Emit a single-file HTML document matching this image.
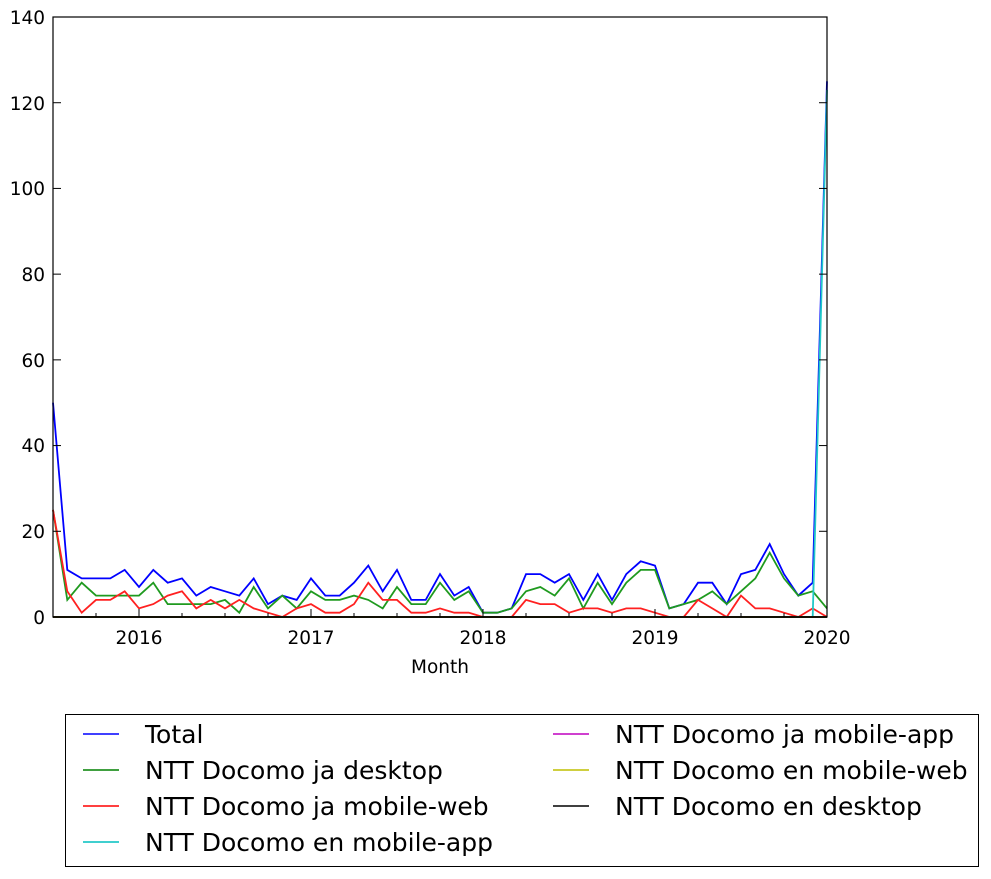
<!DOCTYPE html><html><head><meta charset="utf-8"><style>body{margin:0;background:#fff}svg{display:block;font-family:"DejaVu Sans","Liberation Sans",sans-serif}</style></head><body>
<svg width="991" height="879" xmlns="http://www.w3.org/2000/svg">
<g id="lines" fill="none" stroke-width="1.8"></g>
<rect x="53" y="17" width="774" height="600" fill="none" stroke="#000" stroke-width="1.2"/>
<g font-size="18.5" fill="#000" text-anchor="end">
<text x="45" y="624">0</text><text x="45" y="538">20</text><text x="45" y="452">40</text><text x="45" y="367">60</text><text x="45" y="281">80</text><text x="45" y="195">100</text><text x="45" y="110">120</text><text x="45" y="24">140</text>
</g>
<g font-size="18.5" text-anchor="middle">
<text x="139" y="644">2016</text><text x="311" y="644">2017</text><text x="483" y="644">2018</text><text x="655" y="644">2019</text><text x="827" y="644">2020</text>
<text x="440" y="673">Month</text>
</g>
<g id="ticks" stroke="#000" stroke-width="1"></g>
<rect x="65.5" y="714.5" width="913" height="152" fill="#fff" stroke="#000"/>
<g font-size="25">
<line x1="83" y1="734" x2="119" y2="734" stroke="#0000ff" stroke-width="1.5"/><text x="145" y="743">Total</text>
<line x1="83" y1="770" x2="119" y2="770" stroke="#008000" stroke-width="1.5"/><text x="145" y="779">NTT Docomo ja desktop</text>
<line x1="83" y1="806" x2="119" y2="806" stroke="#ff0000" stroke-width="1.5"/><text x="145" y="815">NTT Docomo ja mobile-web</text>
<line x1="83" y1="842" x2="119" y2="842" stroke="#00bfbf" stroke-width="1.5"/><text x="145" y="851">NTT Docomo en mobile-app</text>
<line x1="553" y1="734" x2="589" y2="734" stroke="#bf00bf" stroke-width="1.5"/><text x="615" y="743">NTT Docomo ja mobile-app</text>
<line x1="553" y1="770" x2="589" y2="770" stroke="#bfbf00" stroke-width="1.5"/><text x="615" y="779">NTT Docomo en mobile-web</text>
<line x1="553" y1="806" x2="589" y2="806" stroke="#000" stroke-width="1.5"/><text x="615" y="815">NTT Docomo en desktop</text>
</g>
<script>
const T=[50,11,9,9,9,11,7,11,8,9,5,7,6,5,9,3,5,4,9,5,5,8,12,6,11,4,4,10,5,7,1,1,2,10,10,8,10,4,10,4,10,13,12,2,3,8,8,3,10,11,17,10,5,8,125];
const G=[25,4,8,5,5,5,5,8,3,3,3,3,4,1,7,2,5,2,6,4,4,5,4,2,7,3,3,8,4,6,1,1,2,6,7,5,9,2,8,3,8,11,11,2,3,4,6,3,6,9,15,9,5,6,2];
const R=[25,6,1,4,4,6,2,3,5,6,2,4,2,4,2,1,0,2,3,1,1,3,8,4,4,1,1,2,1,1,0,0,0,4,3,3,1,2,2,1,2,2,1,0,0,4,2,0,5,2,2,1,0,2,0];
const C=T.map((v,i)=>i==54?123:0);const Z=T.map(()=>0);
const X=i=>53+i*774/54, Y=v=>617-v*600/140;
const ns="http://www.w3.org/2000/svg",g=document.getElementById('lines');
[[T,"#0000ff"],[G,"#1f9a1f"],[R,"#ff2020"],[C,"#20c8c8"],[Z,"#bf00bf"],[Z,"#bfbf00"],[Z,"#000"]].forEach(([d,c])=>{const p=document.createElementNS(ns,"polyline");p.setAttribute("points",d.map((v,i)=>X(i).toFixed(1)+","+Y(v).toFixed(1)).join(" "));p.setAttribute("stroke",c);g.appendChild(p);});
const t=document.getElementById('ticks');
for(let i=0;i<55;i+=3){const x=X(i);let l=document.createElementNS(ns,"line");l.setAttribute("x1",x);l.setAttribute("x2",x);l.setAttribute("y1",617);l.setAttribute("y2",i%12==6?609:613);t.appendChild(l);}
for(let v=20;v<140;v+=20){let l=document.createElementNS(ns,"line");l.setAttribute("x1",53);l.setAttribute("x2",61);l.setAttribute("y1",Y(v));l.setAttribute("y2",Y(v));t.appendChild(l);l=l.cloneNode();l.setAttribute("x1",819);l.setAttribute("x2",827);t.appendChild(l);}
</script>
</svg></body></html>
